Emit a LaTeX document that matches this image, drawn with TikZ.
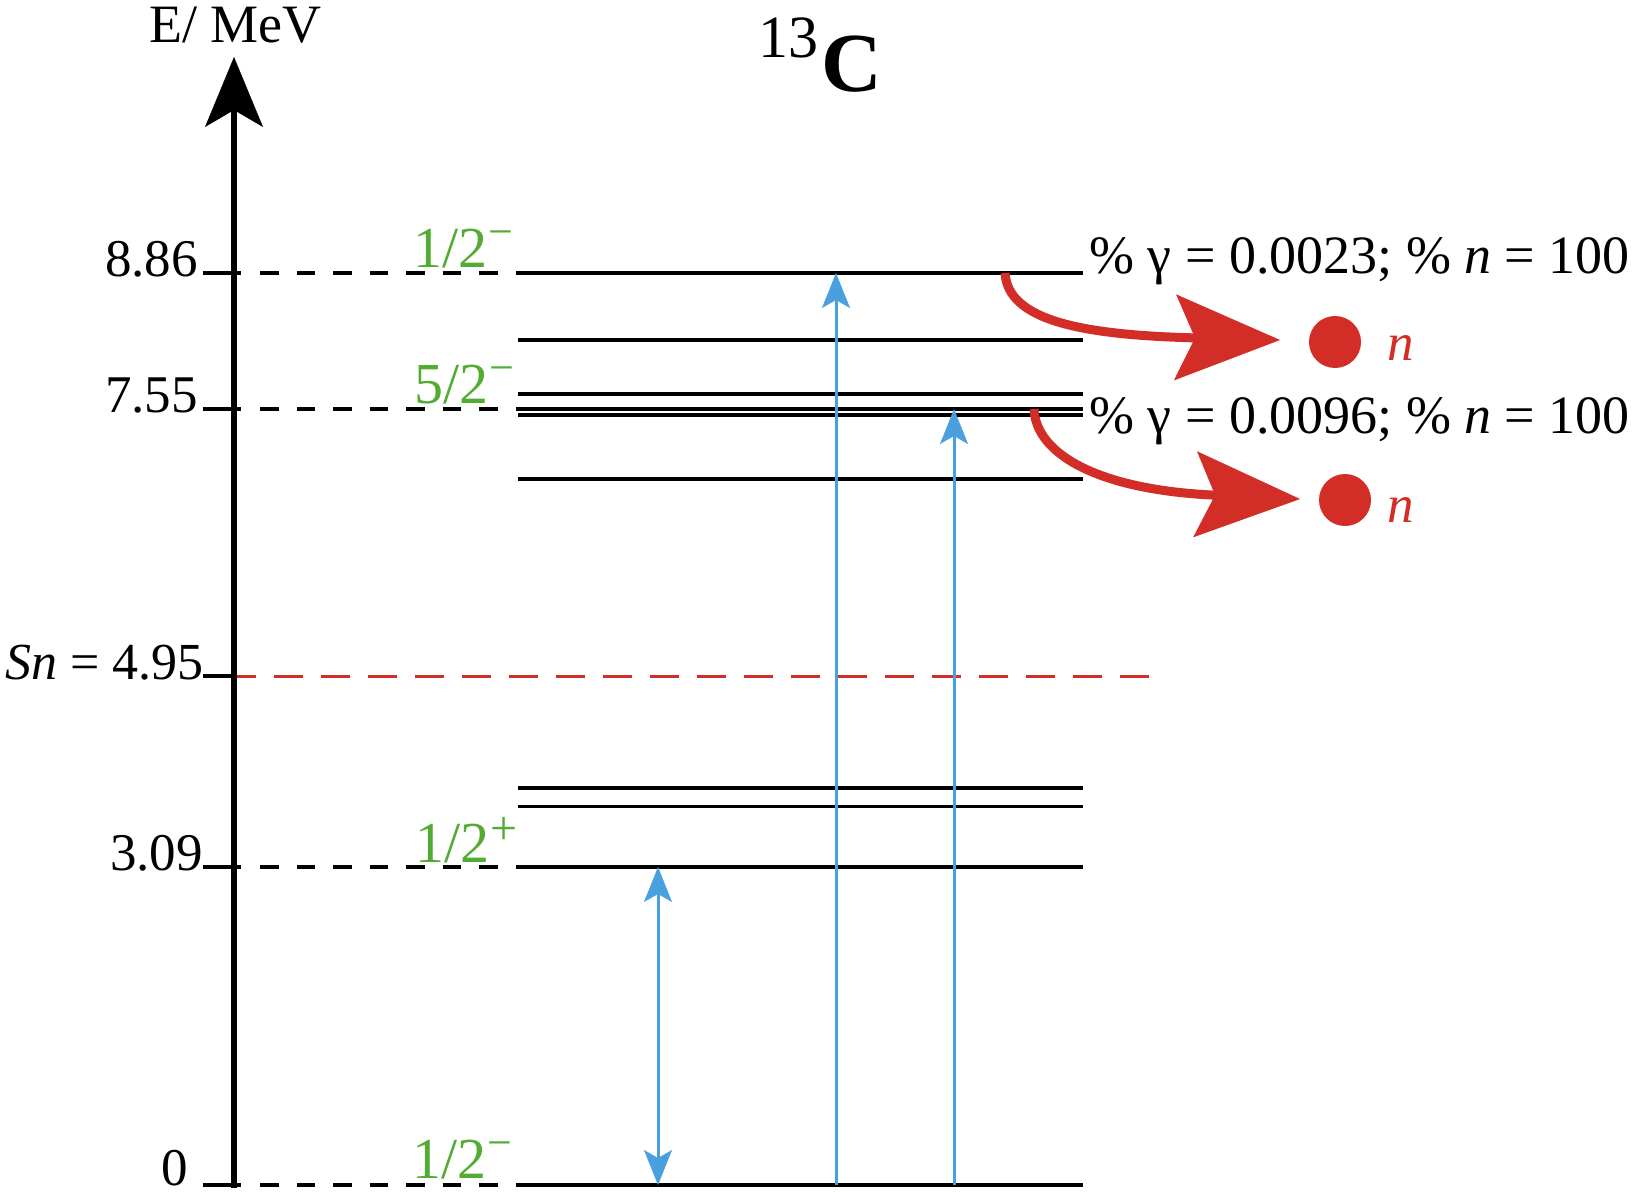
\documentclass[tikz,border=0pt]{standalone}
\usepackage{fontspec}
\setmainfont{Liberation Serif}
\usetikzlibrary{arrows.meta}
\definecolor{lvgreen}{RGB}{82,172,52}
\definecolor{decred}{RGB}{210,45,38}
\definecolor{trblue}{RGB}{74,160,222}
\newcommand\supminus{\kern1pt\raisebox{21pt}{\fontsize{44}{44}\selectfont −}}
\newcommand\supplus{\kern1pt\raisebox{18pt}{\fontsize{48}{48}\selectfont +}}
\begin{document}
\begin{tikzpicture}[x=1pt,y=-1pt,
  level/.style={line width=3.2pt, line cap=butt},
  guide/.style={line width=3.2pt, dash pattern=on 18.5pt off 18pt},
  lab/.style={font=\fontsize{53}{60}\selectfont, inner sep=0pt, anchor=base east},
  spin/.style={font=\fontsize{58}{60}\selectfont, text=lvgreen, inner sep=0pt, anchor=base west},
  ratio/.style={font=\fontsize{54}{60}\selectfont, inner sep=0pt, anchor=base west},
  trans/.style={draw=trblue, line width=3pt},
  decay/.style={draw=decred, line width=9pt, -{Stealth[length=105pt,width=86pt,inset=20pt,line width=0.5pt]}},
  dot/.style={circle, fill=decred, minimum size=52pt, inner sep=0pt},
  nlab/.style={font=\fontsize{53}{60}\selectfont\itshape, text=decred, anchor=base west, inner sep=0pt},
]
\useasboundingbox (0,0) rectangle (1636,1196);

% level lines
\foreach \name/\y in {L0/1185, L309/867, L368/806.5, L385/788, L686/479, L749/415, L755/409, L769/394, L82/340, L886/273}{
  \coordinate (\name-l) at (518,\y);
  \coordinate (\name-r) at (1083,\y);
  \draw[level] (\name-l) -- (\name-r);
}

% guide dashes and ticks
\foreach \name/\y in {g0/1185, g309/867, g755/409, g886/273}{
  \coordinate (\name-t) at (203,\y);
  \coordinate (\name-a) at (241,\y);
  \coordinate (\name-d) at (260,\y);
  \coordinate (\name-e) at (518,\y);
  \draw[line width=3.2pt] (\name-t) -- (\name-a);
  \draw[guide] (\name-d) -- (\name-e);
}

% neutron separation energy
\coordinate (sn-t) at (203,676);
\coordinate (sn-a) at (234,676);
\coordinate (sn-e) at (1158,676);
\draw[line width=3.2pt] (sn-t) -- (sn-a);
\draw[decred, line width=3pt, dash pattern=on 29pt off 18pt, dash phase=7pt] (sn-a) -- (sn-e);

% axis
\coordinate (axbot) at (234,1188);
\coordinate (axtop) at (234,57);
\draw[line width=6.5pt, -{Stealth[length=70pt,width=58pt,inset=17pt,line width=0.5pt]}] (axbot) -- (axtop);
\node[font=\fontsize{54}{60}\selectfont, anchor=base west, inner sep=0pt] (axl) at (149,43) {E/ MeV};

% title
\node[anchor=base west, inner sep=0pt, font=\fontsize{60}{60}\selectfont] (t13) at (758,58) {13};
\node[anchor=base west, inner sep=0pt, font=\fontsize{84}{84}\selectfont\bfseries] (tC) at (821,92) {C};

% energy labels
\node[lab] (e886) at (198,276) {8.86};
\node[lab] (e755) at (198,412) {7.55};
\node[lab, font=\fontsize{52}{60}\selectfont] (esn) at (204,679) {\textit{Sn} = 4.95};
\node[lab] (e309) at (203,870) {3.09};
\node[lab] (e0) at (188,1185) {0};

% spin labels
\node[spin] (s886) at (413,267) {1/2\supminus};
\node[spin] (s755) at (414,403) {5/2\supminus};
\node[spin] (s309) at (415,862) {1/2\supplus};
\node[spin] (s0) at (412,1178) {1/2\supminus};

% transitions
\coordinate (b1a) at (658,1185);
\coordinate (b1b) at (658,867);
\draw[trans, {Stealth[length=35pt,width=28pt,inset=8pt,line width=0.5pt]}-{Stealth[length=35pt,width=28pt,inset=8pt,line width=0.5pt]}] (b1a) -- (b1b);
\coordinate (b2a) at (836,1185);
\coordinate (b2b) at (836,273);
\draw[trans, -{Stealth[length=35pt,width=28pt,inset=8pt,line width=0.5pt]}] (b2a) -- (b2b);
\coordinate (b3a) at (954,1185);
\coordinate (b3b) at (954,409);
\draw[trans, -{Stealth[length=35pt,width=28pt,inset=8pt,line width=0.5pt]}] (b3a) -- (b3b);

% branching texts
\node[ratio] (r886) at (1089,273) {\% γ = 0.0023; \% \textit{n} = 100};
\node[ratio] (r755) at (1089,433) {\% γ = 0.0096; \% \textit{n} = 100};

% neutrons
\node[dot] (n1) at (1335,342) {};
\node[nlab] (nl1) at (1387,360) {n};
\node[dot] (n2) at (1345,500) {};
\node[nlab] (nl2) at (1387,522) {n};

% decay arrows
\coordinate (d1s) at (1005,273);
\coordinate (d1e) at (1280,340);
\draw[decay] (d1s) .. controls (1008,320) and (1080,335) .. (d1e);
\coordinate (d2s) at (1034,409);
\coordinate (d2e) at (1300,499);
\draw[decay] (d2s) .. controls (1036,455) and (1100,490) .. (d2e);
\end{tikzpicture}
\end{document}
